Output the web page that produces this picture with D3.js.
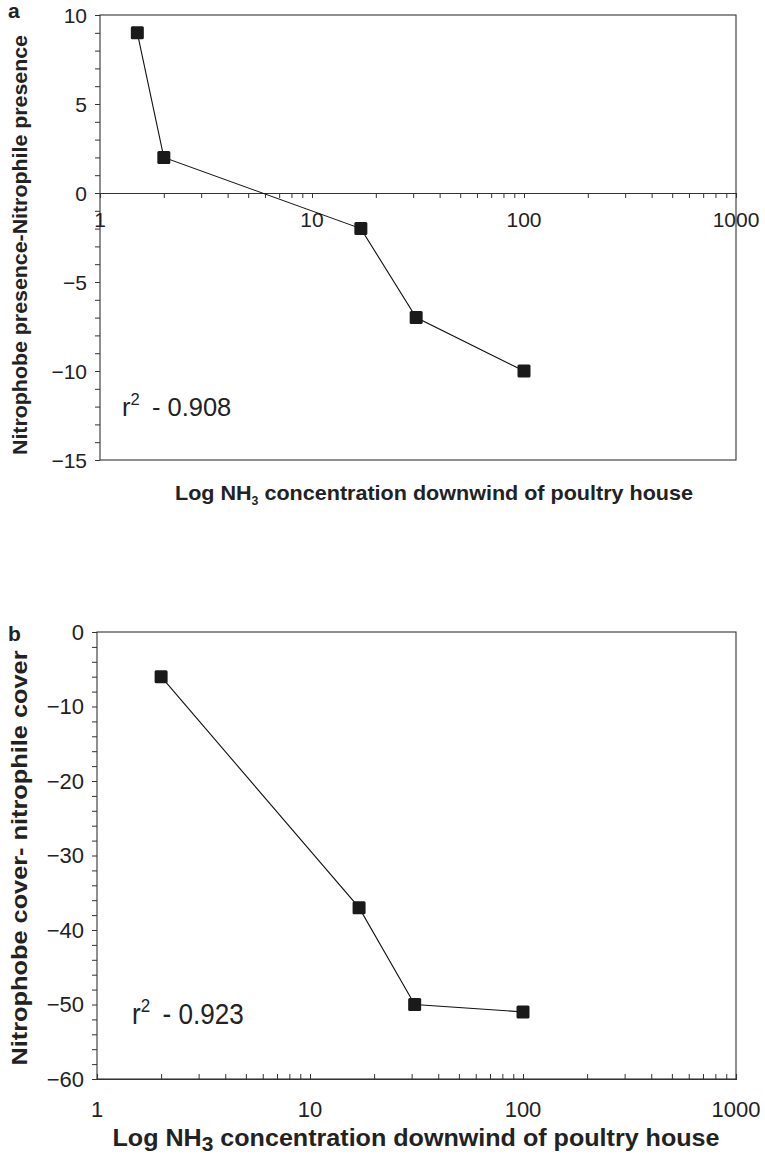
<!DOCTYPE html>
<html><head><meta charset="utf-8">
<script src="https://cdn.jsdelivr.net/npm/d3@7"></script>
<style>
body{margin:0;background:#fff;}
svg{display:block;}
text{font-family:"Liberation Sans",Arial,sans-serif;fill:#222;}
</style></head>
<body>
<script>
// Panel a data
const concA = [1.5, 2, 17, 31, 100];
const valuesA = [9, 2, -2, -7, -10];
const yTicksA = [10, 5, 0, -5, -10, -15];
// Panel b data
const concB = [2, 17, 31, 100];
const valuesB = [-6, -37, -50, -51];
const yTicksB = [0, -10, -20, -30, -40, -50, -60];
const xTickLabels = [1, 10, 100, 1000];
const r2A = "0.908", r2B = "0.923";

const W = 765, H = 1161;
const svg = d3.select("body").append("svg").attr("width", W).attr("height", H);

function fmt(v){ return v < 0 ? "\u2212" + Math.abs(v) : String(v); }

function panel(o){
  const x = d3.scaleLog().domain([1,1000]).range([o.left, o.right]);
  const y = d3.scaleLinear().domain(o.ydom).range([o.bottom, o.top]);
  const g = svg.append("g");
  // frame
  g.append("rect").attr("x", o.left).attr("y", o.top)
    .attr("width", o.right - o.left).attr("height", o.bottom - o.top)
    .attr("fill", "none").attr("stroke", "#333").attr("stroke-width", 1.1);
  // y ticks (major + minor)
  const ym = d3.range(o.ydom[0], o.ydom[1] + 0.001, o.minor);
  g.append("g").attr("transform", `translate(${o.left},0)`)
    .call(d3.axisLeft(y).tickValues(ym).tickSize(5).tickFormat(""))
    .call(s => s.select(".domain").remove())
    .call(s => s.selectAll("line").attr("stroke", "#333"));
  // y labels
  g.append("g").selectAll("text").data(o.yticks).join("text")
    .attr("x", o.left - 13).attr("y", d => y(d)).attr("dy", "0.36em")
    .attr("text-anchor", "end").attr("font-size", o.tickFs).text(fmt);
  // x axis
  const xAxisY = o.xAxisAt === null ? o.bottom : y(o.xAxisAt);
  const xt = x.ticks();
  g.append("g").attr("transform", `translate(0,${xAxisY})`)
    .call((o.xTickDir > 0 ? d3.axisBottom(x) : d3.axisTop(x)).tickValues(xt).tickSize(5).tickFormat(""))
    .call(s => s.select(".domain").attr("stroke", "#333").attr("stroke-width", 1.1))
    .call(s => s.selectAll("line").attr("stroke", "#333"));
  g.append("g").selectAll("text").data(xTickLabels).join("text")
    .attr("x", d => x(d)).attr("y", o.xLabelY).attr("dy", "0.36em")
    .attr("text-anchor", "middle").attr("font-size", o.tickFs).text(d => d);
  // line
  const pts = o.xs.map((c,i) => [c, o.vs[i]]);
  g.append("path").datum(pts)
    .attr("d", d3.line().x(d => x(d[0])).y(d => y(d[1])))
    .attr("fill", "none").attr("stroke", "#111").attr("stroke-width", 1.1);
  g.selectAll("rect.m").data(pts).join("rect").attr("class","m")
    .attr("x", d => x(d[0]) - 6.5).attr("y", d => y(d[1]) - 6.5)
    .attr("width", 13).attr("height", 13).attr("rx", 1.5)
    .attr("fill", "#1a1a1a");
  // r2
  const t = g.append("text")
    .attr("transform", `translate(${o.r2x},${o.r2y}) scale(${o.r2sx},1)`)
    .attr("font-size", o.r2fs);
  t.append("tspan").text("r");
  t.append("tspan").attr("font-size", o.r2fs*0.65).attr("dy", -o.r2fs*0.42).text("2");
  t.append("tspan").attr("dy", o.r2fs*0.42).attr("dx", o.r2fs*0.2).text(" - " + o.r2);
  // panel letter
  svg.append("text").attr("x", 8).attr("y", o.letterY).attr("font-size", 21)
    .attr("font-weight", "bold").text(o.letter);
  // y title
  svg.append("text").attr("transform", `translate(${o.ytitleX},${o.ytitleY}) rotate(-90)`)
    .attr("text-anchor", "middle").attr("font-size", o.ytitleFs).attr("font-weight", "bold")
    .attr("textLength", o.ytitleLen).attr("lengthAdjust", "spacingAndGlyphs")
    .text(o.ytitle);
  // x title
  const xt2 = svg.append("text").attr("x", o.xtitleX).attr("y", o.xtitleY)
    .attr("text-anchor", "middle").attr("font-size", o.xtitleFs).attr("font-weight", "bold")
    .attr("textLength", o.xtitleLen).attr("lengthAdjust", "spacingAndGlyphs");
  xt2.append("tspan").text("Log NH");
  xt2.append("tspan").attr("font-size", o.subFs).attr("dy", o.subDy).text("3");
  xt2.append("tspan").attr("dy", -o.subDy).text(" concentration downwind of poultry house");
}

panel({left:100, right:736, top:15, bottom:460, ydom:[-15,10], minor:1, yticks:yTicksA,
  xAxisAt:0, xTickDir:1, xLabelY:219, tickFs:21,
  xs:concA, vs:valuesA, r2:r2A, r2x:122, r2y:416, r2fs:25.5, r2sx:1, letter:"a", letterY:18,
  ytitle:"Nitrophobe presence-Nitrophile presence", ytitleX:27, ytitleY:245, ytitleFs:21, ytitleLen:420,
  xtitleX:434, xtitleY:500, xtitleFs:21, xtitleLen:518, subFs:12, subDy:5});

panel({left:97, right:736, top:632, bottom:1079, ydom:[-60,0], minor:2, yticks:yTicksB,
  xAxisAt:null, xTickDir:-1, xLabelY:1109, tickFs:22,
  xs:concB, vs:valuesB, r2:r2B, r2x:132, r2y:1024, r2fs:29, r2sx:0.9, letter:"b", letterY:641,
  ytitle:"Nitrophobe cover- nitrophile cover", ytitleX:27, ytitleY:858, ytitleFs:22, ytitleLen:415,
  xtitleX:416, xtitleY:1146, xtitleFs:24, xtitleLen:607, subFs:20, subDy:5});
</script>
</body></html>
